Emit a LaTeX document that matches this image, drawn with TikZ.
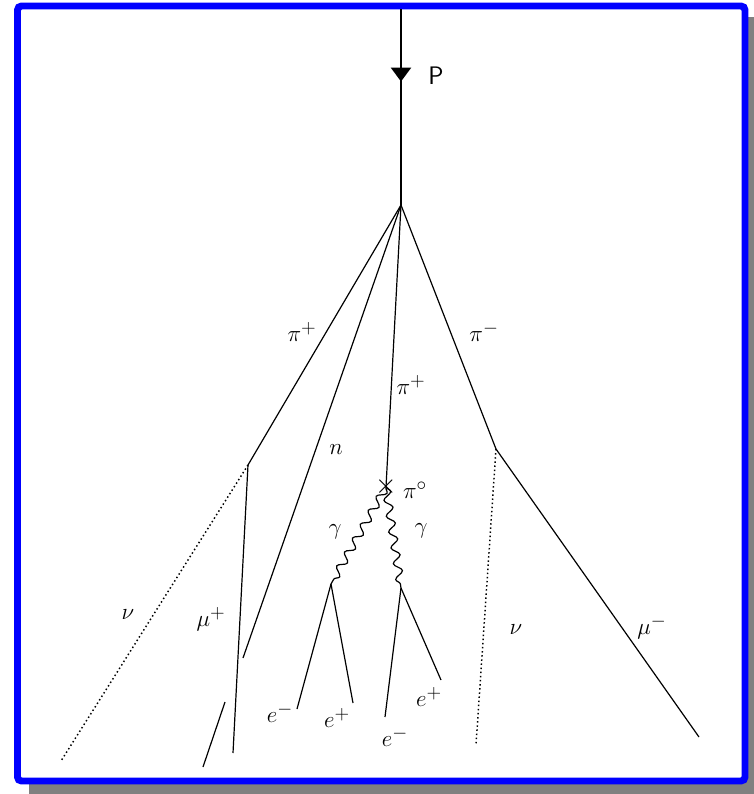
\documentclass[tikz,border=0pt]{standalone}
\usepackage{amsmath}
\usetikzlibrary{arrows.meta,decorations.pathmorphing,decorations.markings}

\begin{document}
\begin{tikzpicture}[
  x=0.75pt, y=-0.75pt,
  track/.style={line width=0.9pt},
  beam/.style={line width=2.2pt, postaction={decorate},
    decoration={markings, mark=at position 0.37 with {\arrow{Triangle[width=15pt,length=10.5pt]}}}},
  neutrino/.style={dotted, line width=1.1pt},
  photon/.style={line width=0.9pt, decorate,
    decoration={snake, amplitude=3pt, segment length=12pt}},
  lbl/.style={font=\fontsize{19}{21}\selectfont, inner sep=1pt}
]
\useasboundingbox (0,0) rectangle (754,794);
% frame with shadow
\fill[gray] (29,17) rectangle (754,794);
\draw[blue, line width=5.2pt, fill=white, rounded corners=3pt] (17.5,6) rectangle (745,781);

% vertices
\coordinate (top) at (401,9);
\coordinate (vtx) at (401,205);
\coordinate (kinkL) at (248,465);
\coordinate (kinkR) at (496,449);
\coordinate (pizero) at (386,487);
\coordinate (pairL) at (331,584);
\coordinate (pairR) at (401,588);
% end points
\coordinate (nuL) at (61,761);
\coordinate (muP) at (233,753);
\coordinate (nGap1) at (243,658);
\coordinate (nGap2) at (225,702);
\coordinate (nEnd) at (203,767);
\coordinate (nuR) at (476,745);
\coordinate (muM) at (699,737);
\coordinate (eL1) at (297,709);
\coordinate (eL2) at (353,703);
\coordinate (eR1) at (385,717);
\coordinate (eR2) at (441,680);

% incoming proton
\draw[beam] (top) -- (vtx);
\node[lbl, font=\fontsize{19}{21}\selectfont\sffamily] (plbl) at (436,76) {P};

% tracks from the vertex
\draw[track] (vtx) -- (kinkL);
\draw[track] (vtx) -- (nGap1);
\draw[track] (nGap2) -- (nEnd);
\draw[track] (vtx) -- (pizero);
\draw[track] (vtx) -- (kinkR);

% decays
\draw[neutrino] (kinkL) -- (nuL);
\draw[track] (kinkL) -- (muP);
\draw[neutrino] (kinkR) -- (nuR);
\draw[track] (kinkR) -- (muM);
\draw[photon] (pizero) -- (pairL);
\draw[photon] (pizero) -- (pairR);
\node[font=\huge, inner sep=0pt] (star) at (pizero) {$\times$};
\draw[track] (pairL) -- (eL1);
\draw[track] (pairL) -- (eL2);
\draw[track] (pairR) -- (eR1);
\draw[track] (pairR) -- (eR2);

% labels
\node[lbl] (pipL) at (302,332) {$\pi^+$};
\node[lbl] (pim) at (484,332) {$\pi^-$};
\node[lbl] (neut) at (336,450) {$n$};
\node[lbl] (pipC) at (411,385) {$\pi^+$};
\node[lbl] (pi0) at (415,490) {$\pi^{\circ}$};
\node[lbl] (gamL) at (335,532) {$\gamma$};
\node[lbl] (gamR) at (421,531) {$\gamma$};
\node[lbl] (nuLl) at (128,615) {$\nu$};
\node[lbl] (muPl) at (211,619) {$\mu^+$};
\node[lbl] (nuRl) at (516,630) {$\nu$};
\node[lbl] (muMl) at (652,627) {$\mu^-$};
\node[lbl] (eL1l) at (280,713) {$e^-$};
\node[lbl] (eL2l) at (337,718) {$e^+$};
\node[lbl] (eR1l) at (395,737) {$e^-$};
\node[lbl] (eR2l) at (429,697) {$e^+$};
\end{tikzpicture}
\end{document}
